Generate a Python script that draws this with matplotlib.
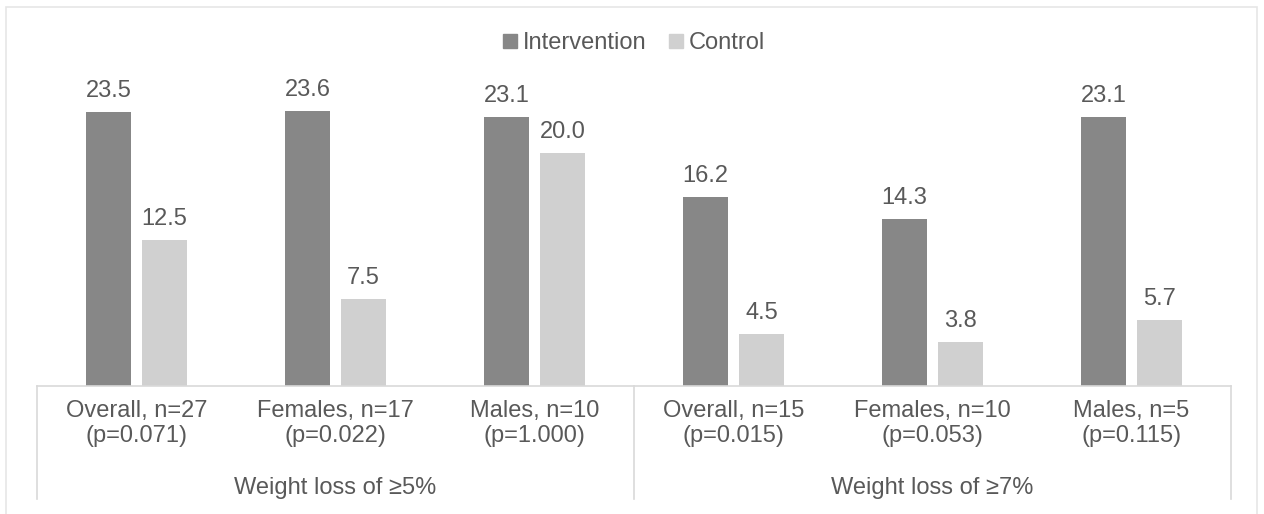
import numpy as np
import matplotlib
matplotlib.use('Agg')
import matplotlib.pyplot as plt
from matplotlib.patches import Rectangle
from matplotlib.lines import Line2D

plt.rcParams['font.family'] = ['Liberation Sans', 'DejaVu Sans']

####################################################
##                Data
####################################################
subgroups = ['Overall, n=27', 'Females, n=17', 'Males, n=10',
             'Overall, n=15', 'Females, n=10', 'Males, n=5']
p_values = ['(p=0.071)', '(p=0.022)', '(p=1.000)',
            '(p=0.015)', '(p=0.053)', '(p=0.115)']
groups = ['Weight loss of \u22655%', 'Weight loss of \u22657%']
intervention = [23.5, 23.6, 23.1, 16.2, 14.3, 23.1]
control = [12.5, 7.5, 20.0, 4.5, 3.8, 5.7]

dark = '#878787'
light = '#d0d0d0'
txt = '#595959'
line_col = '#d9d9d9'
fs = 17

####################################################
##                Plot
####################################################
fig = plt.figure(figsize=(12.64, 5.14), dpi=100)
W, H = 1264., 514.

# outer chart border
fig.patches.append(Rectangle((6 / W, -0.05), (1257 - 6) / W, (H - 7) / H + 0.05,
                             transform=fig.transFigure, fill=False,
                             edgecolor='#e6e6e6', linewidth=1.2))

ax = fig.add_axes([37 / W, (H - 386) / H, (1231 - 37) / W, (386 - 71) / H])
ax.set_xlim(0, len(subgroups))
ax.set_ylim(0, 27)
ax.axis('off')

ind = np.arange(len(subgroups)) + 0.5
width = 0.226
gap = 0.056
p_int = ax.bar(ind - (width + gap) / 2, intervention, width, color=dark)
p_con = ax.bar(ind + (width + gap) / 2, control, width, color=light)

# value labels
for rects, vals in [(p_int, intervention), (p_con, control)]:
    for r, v in zip(rects, vals):
        ax.annotate('%.1f' % v, (r.get_x() + r.get_width() / 2, v),
                    xytext=(0, 7), textcoords='offset points',
                    ha='center', va='bottom', fontsize=fs, color=txt)

# category axis
trans = ax.get_xaxis_transform()
ax.plot([0, len(subgroups)], [0, 0], color=line_col, lw=1.2,
        transform=trans, clip_on=False)
for xv in [0, 3, 6]:
    ax.plot([xv, xv], [0, -0.36], color=line_col, lw=1.2,
            transform=trans, clip_on=False)

for x, s, p in zip(ind, subgroups, p_values):
    ax.text(x, -0.08, s, ha='center', va='center', fontsize=fs,
            color=txt, transform=trans)
    ax.text(x, -0.16, p, ha='center', va='center', fontsize=fs,
            color=txt, transform=trans)
for i, g in enumerate(groups):
    ax.text(1.5 + 3 * i, -0.325, g, ha='center', va='center', fontsize=fs,
            color=txt, transform=trans)

# legend
handles = [Line2D([], [], marker='s', linestyle='none', markersize=10,
                  color=dark),
           Line2D([], [], marker='s', linestyle='none', markersize=10,
                  color=light)]
fig.legend(handles, ['Intervention', 'Control'], loc='center',
           bbox_to_anchor=(0.5, 1 - 43 / H), ncol=2, frameon=False,
           fontsize=fs, labelcolor=txt, handletextpad=0.1,
           columnspacing=0.8, handlelength=0.9)

plt.savefig('out.png', dpi=100)
plt.close()
